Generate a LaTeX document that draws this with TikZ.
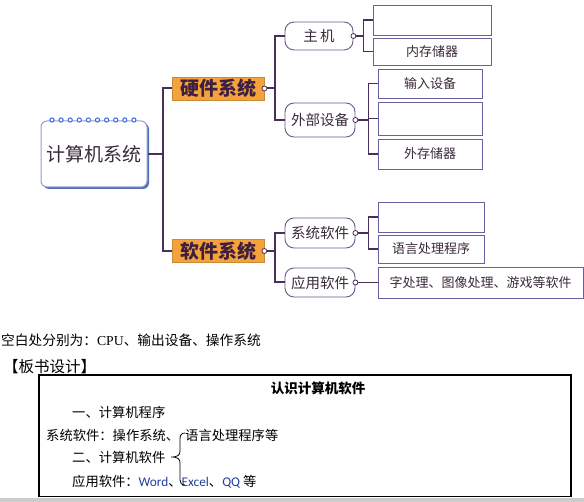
\documentclass[tikz,border=0pt]{standalone}
\usepackage{fontspec}
\setmainfont{Noto Sans CJK SC}
\newfontfamily\serifen{Liberation Serif}
\newfontfamily\sansen{Carlito}
\usetikzlibrary{calc,shadows}
\definecolor{connc}{HTML}{4A2F5A}
\definecolor{orangef}{HTML}{F6A23C}
\definecolor{orangeb}{HTML}{C98A3A}
\definecolor{hwtext}{HTML}{3D1F3F}
\definecolor{brc}{HTML}{6A5A8A}
\definecolor{lfc}{HTML}{6B5FA0}
\definecolor{mainb}{HTML}{90A0D0}
\definecolor{mainsh}{HTML}{4060A8}
\definecolor{ringc}{HTML}{3A6AE0}
\definecolor{txtc}{HTML}{3A2A3A}
\definecolor{wordc}{HTML}{1F3F9F}
\begin{document}
\begin{tikzpicture}[x=1pt,y=-1pt,
  conn/.style={draw=connc,line width=2pt},
  connb/.style={draw=connc,line width=1.6pt},
  mainbox/.style={draw=mainb,fill=white,line width=1pt,rounded corners=6pt,minimum width=106,minimum height=66,inner sep=0,
    drop shadow={shadow xshift=2pt,shadow yshift=-2pt,fill=mainsh,opacity=0.9},font=\fontsize{19}{19}\selectfont,text=txtc},
  hwbox/.style={draw=orangeb,fill=orangef,line width=0.8pt,minimum width=92,minimum height=23,inner sep=0,
    font=\fontsize{19}{19}\selectfont\bfseries,text=hwtext},
  branch/.style={draw=brc,fill=white,rounded corners=9pt,line width=0.9pt,inner sep=0,
    font=\fontsize{14.5}{14.5}\selectfont,text=txtc},
  leaf/.style={draw=lfc,fill=white,line width=0.9pt,inner sep=0,font=\fontsize{13}{13}\selectfont,text=txtc},
  endc/.style={circle,draw=connc,fill=white,line width=0.8pt,inner sep=0,minimum size=5},
  btxt/.style={anchor=west,inner sep=0,font=\fontsize{13.3}{13.3}\selectfont},
]
\useasboundingbox (0,0) rectangle (584,502);
% main node
\node[mainbox] (main) at (94,154) {计算机系统};
\foreach \i in {0,...,9}{
  \draw[ringc,line width=1pt,fill=white] ({52+\i*9.1},120) circle (2.1);
}
% level 1
\node[hwbox] (hw) at (218,88.5) {硬件系统};
\node[hwbox] (sw) at (218,251) {软件系统};
\coordinate (jm) at ($(main.east)+(15,0)$);
\draw[conn] (main.east) -- (jm);
\draw[conn] (jm) |- (hw.west);
\draw[conn] (jm) |- (sw.west);
% level 2
\node[branch,minimum width=68,minimum height=28] (zj) at (319,36) {主\,机};
\node[branch,minimum width=70,minimum height=34] (wb) at (320,120) {外部设备};
\node[branch,minimum width=70,minimum height=30] (xt) at (320,233) {系统软件};
\node[branch,minimum width=70,minimum height=29] (yy) at (320,282.5) {应用软件};
\coordinate (jh) at ($(hw.east)+(11,0)$);
\coordinate (js) at ($(sw.east)+(11,0)$);
\draw[conn] (hw.east) -- (jh);
\draw[conn] (jh) |- (zj.west);
\draw[conn] (jh) |- (wb.west);
\draw[conn] (sw.east) -- (js);
\draw[conn] (js) |- (xt.west);
\draw[conn] (js) |- (yy.west);
\node[endc] (chw) at (hw.east) {};
\node[endc] (csw) at (sw.east) {};
% level 3
\node[leaf,minimum width=118,minimum height=30] (b1) at (432,20) {};
\node[leaf,minimum width=118,minimum height=27] (nc) at (432,51.5) {内存储器};
\node[leaf,minimum width=104,minimum height=29] (sr) at (430,83.5) {输入设备};
\node[leaf,minimum width=104,minimum height=33] (b2) at (430,118.5) {};
\node[leaf,minimum width=104,minimum height=30] (wc) at (430,154) {外存储器};
\node[leaf,minimum width=106,minimum height=30] (b3) at (431,217) {};
\node[leaf,minimum width=106,minimum height=28] (yc) at (431,249) {语言处理程序};
\node[leaf,minimum width=205,minimum height=31] (zc) at (480.5,282.5) {字处理、图像处理、游戏等软件};
\coordinate (jz) at ($(zj.east)+(10,0)$);
\coordinate (jw) at ($(wb.east)+(13,0)$);
\coordinate (jx) at ($(xt.east)+(13,0)$);
\draw[connb] (zj.east) -- (jz);
\draw[connb] (jz) |- (b1.west);
\draw[connb] (jz) |- (nc.west);
\draw[connb] (wb.east) -- (jw);
\draw[connb] (jw) |- (sr.west);
\draw[connb] (jw) |- (b2.west);
\draw[connb] (jw) |- (wc.west);
\draw[connb] (xt.east) -- (jx);
\draw[connb] (jx) |- (b3.west);
\draw[connb] (jx) |- (yc.west);
\draw[connb] (yy.east) -- (zc.west);
\node[endc] (czj) at (zj.east) {};
\node[endc] (cwb) at (wb.east) {};
\node[endc] (cxt) at (xt.east) {};
\node[endc] (cyy) at (yy.east) {};
% bottom text
\node[btxt,font=\fontsize{13.7}{13.7}\selectfont] (note) at (1,340) {空白处分别为：{\serifen CPU}、输出设备、操作系统};
\node[btxt,font=\fontsize{15.5}{15.5}\selectfont] (bs) at (3,367) {【板书设计】};
\node[draw=black,line width=1.2pt,minimum width=532,minimum height=121.5,inner sep=0] (board) at (305,435.75) {};
\node[inner sep=0,font=\fontsize{13.5}{13.5}\selectfont\bfseries] (title) at (318,388) {认识计算机软件};
\node[btxt] (l1) at (72,412) {一、计算机程序};
\node[btxt] (l2) at (46,435) {系统软件：操作系统、};
\node[btxt] (l2b) at (185,435) {语言处理程序等};
\node[btxt] (l3) at (72,457) {二、计算机软件};
\node[btxt] (l4) at (72,482) {应用软件：{\sansen\color{wordc}Word}、{\sansen\color{wordc}Excel}、{\sansen\color{wordc}QQ} 等};
\draw[line width=0.8pt] (185,433) .. controls (181.5,433) and (180,435) .. (180,439) -- (180,451)
   .. controls (180,455) and (178,457) .. (171,457)
   .. controls (178,457) and (180,459) .. (180,463) -- (180,480)
   .. controls (180,483) and (181.5,485) .. (185,485);
\fill[gray!40] (0,498.5) rectangle (584,502);
\end{tikzpicture}
\end{document}
